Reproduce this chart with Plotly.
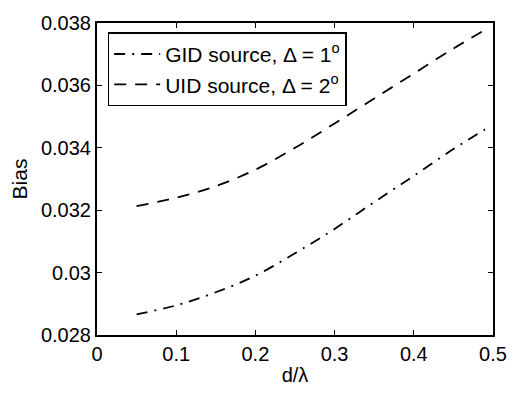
import plotly.graph_objects as go

x_vals = [0.05, 0.1, 0.15, 0.2, 0.25, 0.3, 0.35, 0.4, 0.45, 0.49]
gid_bias = [0.02866, 0.02895, 0.02937, 0.0299, 0.03062, 0.0314, 0.03226, 0.0331, 0.03396, 0.03459]
uid_bias = [0.03213, 0.0324, 0.03277, 0.0333, 0.034, 0.03478, 0.03558, 0.03638, 0.03718, 0.03778]

x_ticks = [0, 0.1, 0.2, 0.3, 0.4, 0.5]
x_tick_text = ["0", "0.1", "0.2", "0.3", "0.4", "0.5"]
y_ticks = [0.028, 0.03, 0.032, 0.034, 0.036, 0.038]
y_tick_text = ["0.028", "0.03", "0.032", "0.034", "0.036", "0.038"]

font_family = "Liberation Sans, Arial, Helvetica, sans-serif"

fig = go.Figure()
fig.add_trace(go.Scatter(
    x=x_vals, y=gid_bias, mode="lines",
    name="GID source, \u0394 = 1<sup>o</sup>",
    line=dict(color="black", width=1.8, dash="11px,7px,2px,7px", shape="spline"),
))
fig.add_trace(go.Scatter(
    x=x_vals, y=uid_bias, mode="lines",
    name="UID source, \u0394 = 2<sup>o</sup>",
    line=dict(color="black", width=1.8, dash="12px,9px", shape="spline"),
))

axis_common = dict(
    showgrid=False, zeroline=False, showline=True, linecolor="black", linewidth=2,
    mirror="ticks", ticks="inside", ticklen=5, tickcolor="black", tickwidth=1,
    tickfont=dict(size=20, color="black", family=font_family),
)

fig.update_layout(
    width=519, height=395,
    margin=dict(l=97, r=17, t=20, b=55),
    paper_bgcolor="white", plot_bgcolor="white",
    font=dict(family=font_family, color="black"),
    xaxis=dict(range=[0, 0.5], tickvals=x_ticks, ticktext=x_tick_text,
               title=dict(text="d/\u03bb", font=dict(size=20, color="black"), standoff=4),
               **axis_common),
    yaxis=dict(range=[0.028, 0.038], tickvals=y_ticks, ticktext=y_tick_text,
               title=dict(text="Bias", font=dict(size=21, color="black"), standoff=8),
               **axis_common),
    showlegend=True,
    legend=dict(x=0.027, y=0.97, xanchor="left", yanchor="top",
                bgcolor="white", bordercolor="black", borderwidth=1.5,
                font=dict(size=21, color="black", family=font_family),
                tracegroupgap=0, itemwidth=46),
)

fig.write_html("out.html")
